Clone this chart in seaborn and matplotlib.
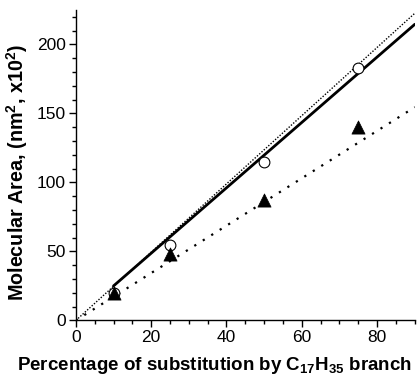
import numpy as np
import pandas as pd
import matplotlib
matplotlib.use("Agg")
import matplotlib.pyplot as plt
import seaborn as sns
from matplotlib.ticker import MultipleLocator

# Measured molecular areas
substitution = [10, 25, 50, 75]
area_open = [20, 55, 115, 183]      # open circles
area_filled = [20, 48, 87, 140]     # filled triangles

# Reference lines (endpoints)
solid_x = [10, 90]
solid_y = [25, 214.5]
dense_x = [0, 90]
dense_y = [0, 222.5]
sparse_x = [0, 90]
sparse_y = [0, 154.5]

sns.set_style("ticks")
plt.rcParams["font.family"] = ["Liberation Sans", "DejaVu Sans"]
plt.rcParams["mathtext.fontset"] = "custom"
plt.rcParams["mathtext.rm"] = "Liberation Sans"
plt.rcParams["mathtext.bf"] = "Liberation Sans:bold"
for key in ["text.color", "axes.labelcolor", "xtick.color", "ytick.color",
            "axes.edgecolor"]:
    plt.rcParams[key] = "black"

fig = plt.figure(figsize=(4.19, 3.77), dpi=100)
ax = fig.add_axes([0.181, 0.150, 0.809, 0.824])

sns.lineplot(x=dense_x, y=dense_y, ax=ax, color="black", lw=1.0,
             linestyle=(0, (1, 1.2)))
sns.lineplot(x=sparse_x, y=sparse_y, ax=ax, color="black", lw=1.6,
             linestyle=(0, (1, 3.5)))
sns.lineplot(x=solid_x, y=solid_y, ax=ax, color="black", lw=2.0)

sns.scatterplot(x=substitution, y=area_open, ax=ax, marker="o", s=60,
                facecolor="white", edgecolor="black", linewidth=0.8, zorder=3)
sns.scatterplot(x=substitution, y=area_filled, ax=ax, marker="^", s=90,
                color="black", edgecolor="black", linewidth=0.5, zorder=4)

ax.set_xlim(0, 90)
ax.set_ylim(0, 225)
ax.xaxis.set_major_locator(MultipleLocator(20))
ax.xaxis.set_minor_locator(MultipleLocator(5))
ax.yaxis.set_major_locator(MultipleLocator(50))
ax.yaxis.set_minor_locator(MultipleLocator(10))
ax.tick_params(which="major", direction="out", length=5, width=1,
               labelsize=12.5, pad=2)
ax.tick_params(which="minor", direction="out", length=3, width=1)
for s in ["top", "right"]:
    ax.spines[s].set_visible(False)
for s in ["left", "bottom"]:
    ax.spines[s].set_linewidth(1)

ax.set_xlabel(r"Percentage of substitution by C$_{\mathbf{17}}$H$_{\mathbf{35}}$ branch",
              fontsize=13.5, fontweight="bold")
ax.set_ylabel(r"Molecular Area, (nm$^{\mathbf{2}}$, x10$^{\mathbf{2}}$)",
              fontsize=14.2, fontweight="bold")
ax.xaxis.set_label_coords(0.41, -0.11)
ax.yaxis.set_label_coords(-0.136, 0.476)

fig.savefig("out.png", dpi=100)
